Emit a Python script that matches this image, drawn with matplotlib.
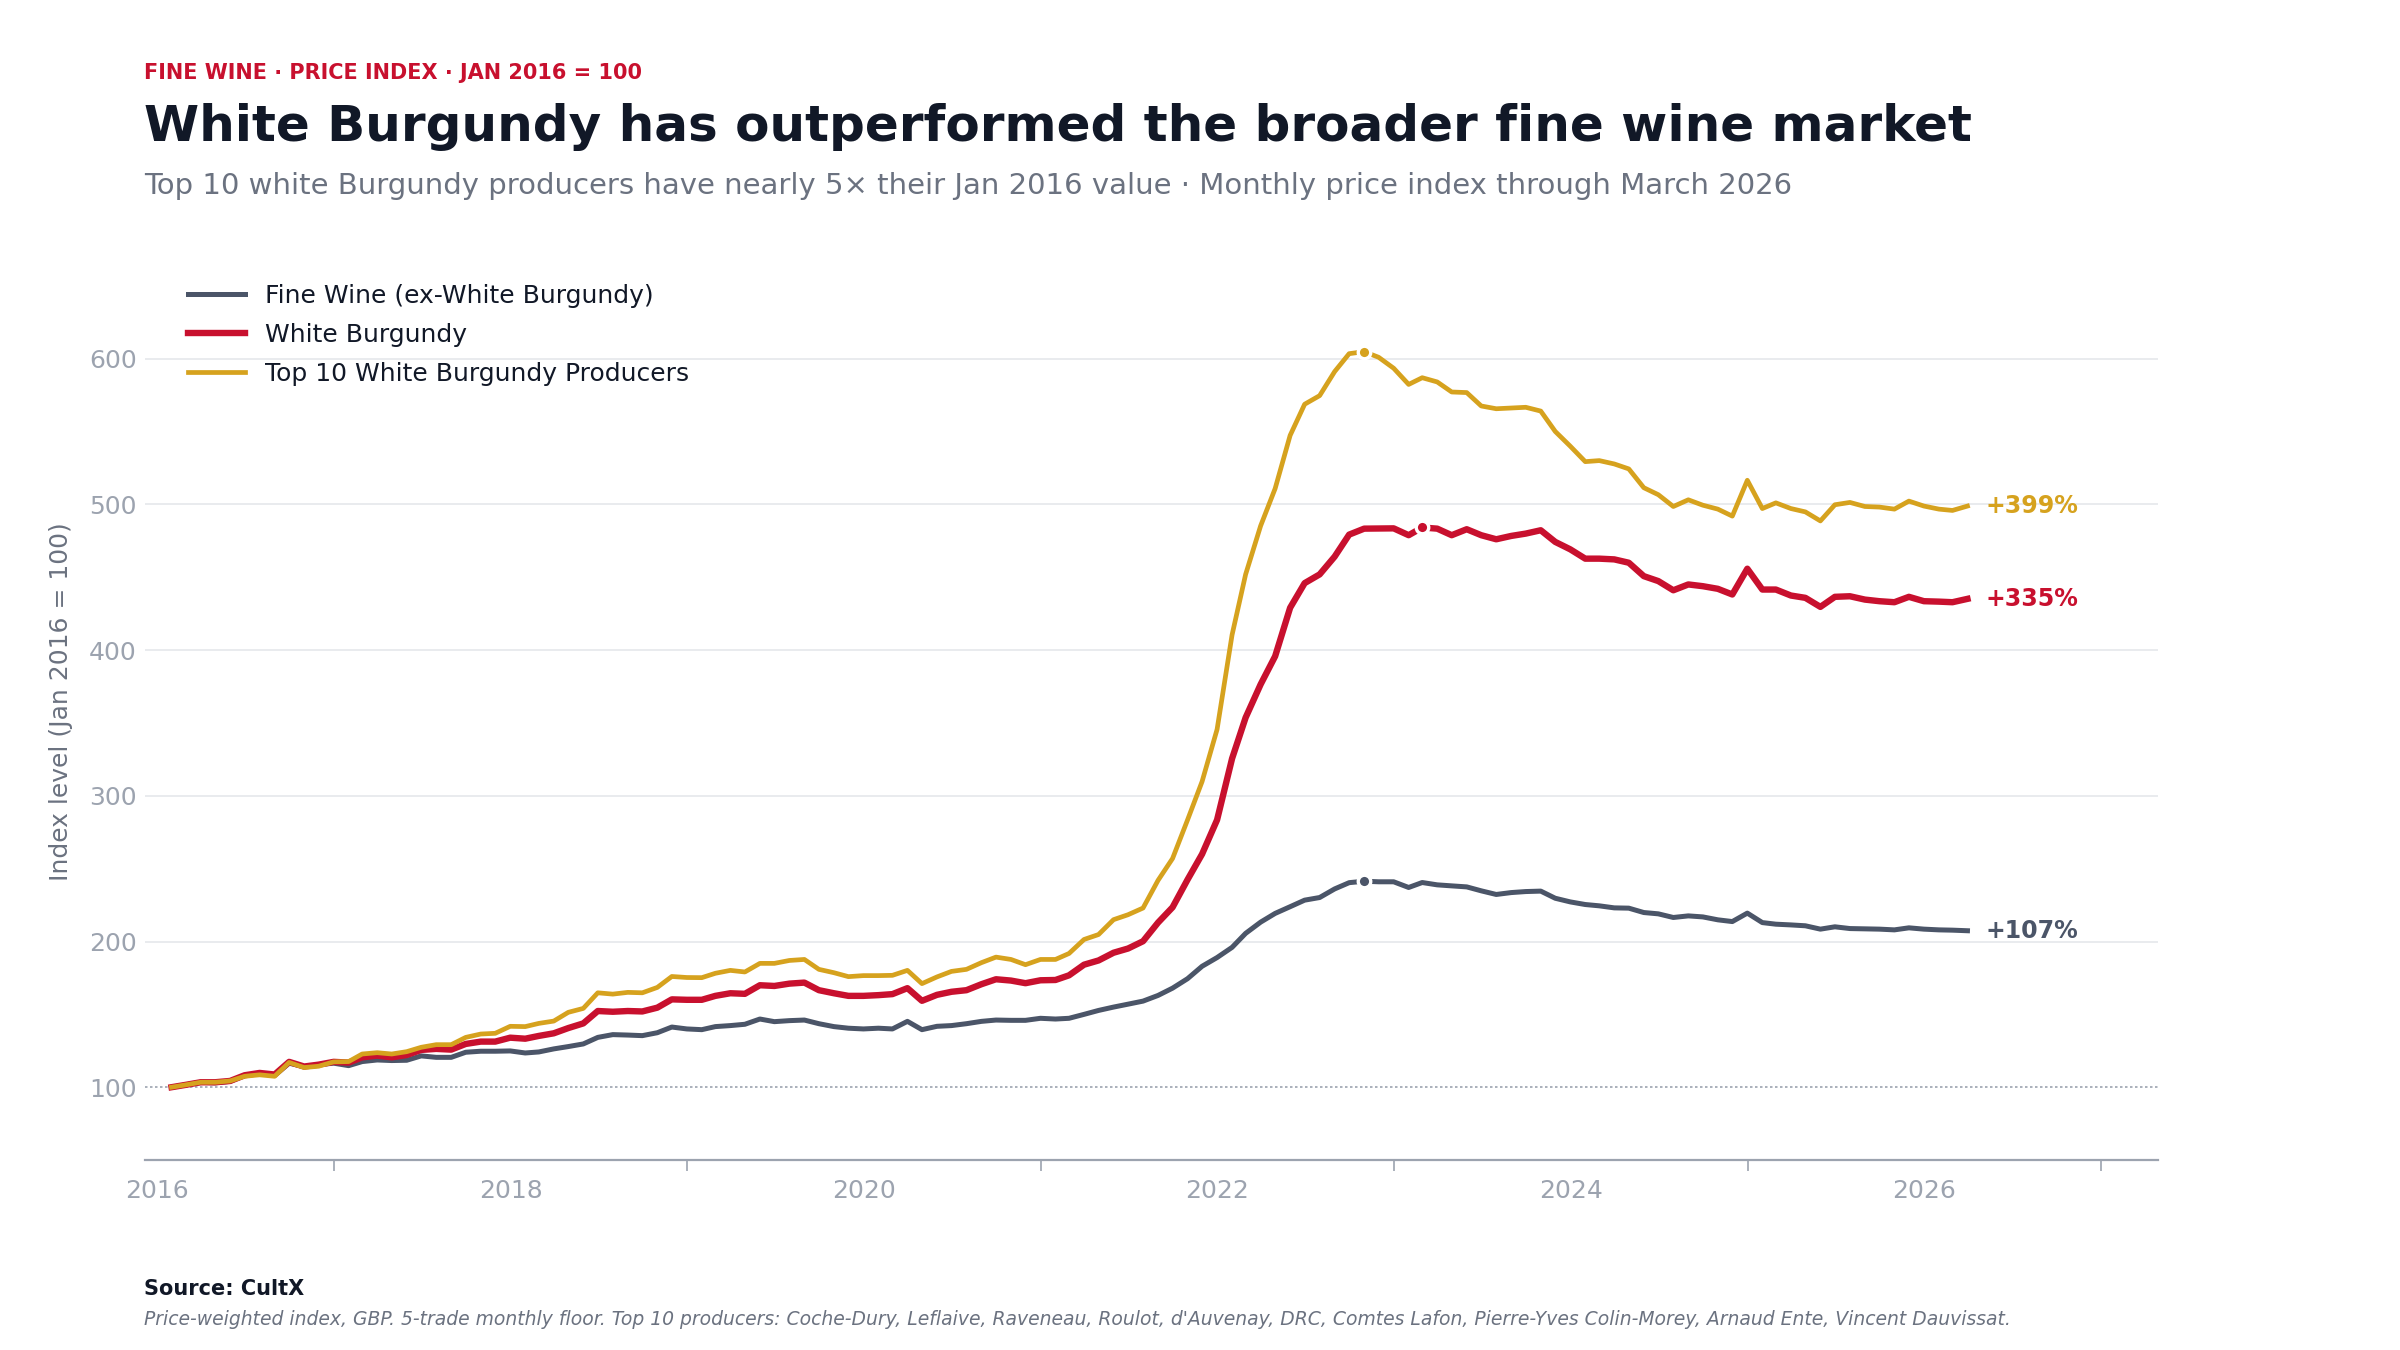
"""
White Burgundy vs fine wine market - monthly price index (Jan 2016 = 100)
"""

import numpy as np
import pandas as pd
import matplotlib

matplotlib.use("Agg")
import matplotlib.pyplot as plt
import matplotlib.dates as mdates

# Data (month-end, Jan 2016 .. Mar 2026)
START_MONTH = "2016-01-31"

fine_wine = [
    100, 101.6, 103.4, 103, 104, 108, 109.5, 108, 116.5, 114,
    115.5, 116.5, 114.8, 117.6, 118.7, 118.3, 118.5, 121.5, 120.5, 120.5,
    124, 124.7, 124.7, 124.9, 123.5, 124.2, 126.3, 127.9, 129.7, 134.2,
    136.1, 135.8, 135.4, 137.4, 141.3, 140, 139.5, 141.6, 142.3, 143.2,
    146.8, 145, 145.7, 146.1, 143.6, 141.6, 140.5, 140, 140.5, 140,
    145.2, 139.5, 141.8, 142.3, 143.6, 145.2, 146.1, 145.9, 145.9, 147.3,
    146.8, 147.3, 150, 152.7, 155, 157, 159.1, 163, 168, 174.5,
    183, 189, 196, 205.6, 213.3, 219.3, 223.9, 228.4, 230.2, 236.1,
    240.4, 241.4, 241, 241, 237.1, 240.5, 238.9, 238.2, 237.5, 234.8,
    232.3, 233.6, 234.3, 234.6, 229.7, 227.2, 225.4, 224.5, 223.1, 222.9,
    219.9, 219, 216.5, 217.6, 216.9, 214.9, 213.7, 219.5, 213, 211.9,
    211.4, 210.8, 208.5, 210.1, 208.9, 208.7, 208.5, 208, 209.4, 208.5,
    208, 207.8, 207.4,
]

white_burgundy = [
    100, 101.6, 103.4, 103.4, 104.3, 108.2, 109.8, 108.7, 117.4, 114.2,
    115.5, 117.4, 116.9, 120.5, 121.7, 120.5, 122.1, 125.6, 126.3, 125.8,
    129.7, 131.3, 131.3, 134, 133.3, 135.2, 137, 140.6, 143.8, 152.3,
    151.8, 152.3, 152, 154.6, 160.3, 160, 160, 162.7, 164.5, 164.1,
    170, 169.5, 171.1, 171.8, 166.6, 164.5, 162.7, 162.7, 163.2, 163.9,
    168, 159.3, 163.4, 165.5, 166.6, 170.7, 174.1, 173.2, 171.4, 173.4,
    173.6, 176.8, 184.1, 187, 192.3, 195.2, 200.2, 213, 223.5, 242.5,
    260, 283.5, 325.6, 353.7, 376.5, 395.8, 429.1, 446, 452, 464.2,
    479.3, 483.4, 483.5, 483.6, 478.9, 484.2, 483.4, 478.9, 483, 478.9,
    476.1, 478.4, 480, 482.3, 474.3, 469.2, 462.8, 462.8, 462.3, 460,
    450.8, 447.4, 441.1, 445.1, 443.9, 442.1, 438.2, 455.9, 441.6, 441.6,
    437.5, 435.9, 429.7, 436.6, 437, 434.7, 433.6, 432.9, 436.6, 433.6,
    433.3, 432.9, 435.2,
]

top10_producers = [
    100, 101.6, 103.4, 103.4, 104.3, 107.5, 108.5, 107.5, 117, 113.5,
    114.4, 117.4, 117.6, 122.8, 123.7, 122.8, 124.4, 127.4, 129.2, 129.2,
    134.2, 136.5, 137, 141.8, 141.6, 143.8, 145.4, 151.4, 154.1, 164.8,
    163.9, 165.1, 164.8, 168.5, 176, 175.3, 175.2, 178.2, 180.2, 179.1,
    185, 185, 187, 187.7, 180.9, 178.6, 175.9, 176.6, 176.6, 176.8,
    180.2, 171.1, 175.7, 179.5, 180.9, 185.5, 189.3, 187.7, 184.1, 187.7,
    187.7, 191.8, 201.4, 204.8, 215, 218.4, 223, 242, 257, 283.5,
    309.8, 345.6, 410.5, 452, 485.3, 510.9, 547.4, 568.8, 574.7, 591.2,
    603.5, 604.9, 601, 593.5, 582.4, 587, 584.1, 577.2, 576.8, 567.6,
    565.7, 566.2, 566.7, 564.1, 550.1, 540, 529.4, 530.1, 527.8, 524.4,
    511.5, 506.7, 498.6, 503.2, 499.5, 496.8, 492, 516.6, 497.2, 501.1,
    497.2, 494.9, 488.7, 499.8, 501.4, 498.6, 498.2, 496.8, 502.3, 498.9,
    496.8, 495.9, 498.9,
]

series_names = [
    "Fine Wine (ex-White Burgundy)",
    "White Burgundy",
    "Top 10 White Burgundy Producers",
]
y_ticks = [100, 200, 300, 400, 500, 600]

# Styling
COLORS = ["#4b5568", "#c8102e", "#d6a21e"]
WIDTHS = [1.8, 2.3, 1.7]
DARK = "#111827"
MUTED = "#6b7280"
LIGHT = "#9ca3af"

dates = pd.date_range(START_MONTH, periods=len(fine_wine), freq="ME")
all_series = [fine_wine, white_burgundy, top10_producers]

fig = plt.figure(figsize=(12, 6.75), dpi=200)
ax = fig.add_axes([0.0604, 0.1407, 0.8386, 0.6475])

for vals, name, color, lw in zip(all_series, series_names, COLORS, WIDTHS):
    vals = np.array(vals)
    ax.plot(dates, vals, color=color, lw=lw, label=name, solid_joinstyle="round", zorder=3)
    # Peak marker
    k = int(np.argmax(vals))
    ax.plot(dates[k], vals[k], "o", ms=4.5, color=color, mec="white", mew=1.2, zorder=4)
    # End label (total change)
    pct = vals[-1] - 100
    ax.annotate(
        f"+{pct:.0f}%",
        xy=(dates[-1], vals[-1]),
        xytext=(6.5, 0),
        textcoords="offset points",
        color=color,
        fontsize=8.5,
        fontweight="bold",
        va="center",
        ha="left",
    )

# Gridlines and baseline
for yv in y_ticks[1:]:
    ax.axhline(yv, color="#e5e7eb", lw=0.6, zorder=1)
ax.axhline(100, color=LIGHT, lw=0.6, ls=(0, (1.5, 1.5)), zorder=1)

ax.set_ylim(50, 650)
ax.set_xlim(pd.Timestamp("2015-12-07"), pd.Timestamp("2027-04-28"))
ax.set_yticks(y_ticks)
ax.tick_params(axis="y", length=0, labelsize=9, labelcolor=LIGHT, pad=3)

ax.xaxis.set_major_locator(mdates.YearLocator(2))
ax.xaxis.set_major_formatter(mdates.DateFormatter("%Y"))
odd_years = [pd.Timestamp(f"{y}-01-01") for y in range(2017, 2028, 2)]
ax.set_xticks(odd_years, minor=True)
ax.tick_params(axis="x", which="major", length=0, labelsize=9, labelcolor=LIGHT, pad=7)
ax.tick_params(axis="x", which="minor", length=4, color=LIGHT, width=0.6)

for side in ["top", "right", "left"]:
    ax.spines[side].set_visible(False)
ax.spines["bottom"].set_color(LIGHT)
ax.spines["bottom"].set_linewidth(0.8)

ax.set_ylabel("Index level (Jan 2016 = 100)", fontsize=9, color=MUTED)
ax.yaxis.set_label_coords(-0.036, 0.525)

ax.legend(
    loc="upper left",
    bbox_to_anchor=(0.01, 1.028),
    frameon=False,
    fontsize=9,
    handlelength=2.3,
    labelspacing=0.6,
    labelcolor=DARK,
)

# Titles
fig.text(0.06, 0.9456, "FINE WINE · PRICE INDEX · JAN 2016 = 100", color="#c8102e",
         fontsize=7.5, fontweight="bold", va="center")
fig.text(0.06, 0.906, "White Burgundy has outperformed the broader fine wine market",
         color=DARK, fontsize=18, fontweight="bold", va="center")
fig.text(0.06, 0.862,
         "Top 10 white Burgundy producers have nearly 5× their Jan 2016 value · Monthly price index through March 2026",
         color=MUTED, fontsize=10.5, va="center")

# Footer
fig.text(0.06, 0.0454, "Source: CultX", color=DARK, fontsize=7.5, fontweight="bold", va="center")
fig.text(0.06, 0.0227,
         "Price-weighted index, GBP. 5-trade monthly floor. Top 10 producers: Coche-Dury, Leflaive, Raveneau, "
         "Roulot, d'Auvenay, DRC, Comtes Lafon, Pierre-Yves Colin-Morey, Arnaud Ente, Vincent Dauvissat.",
         color=MUTED, fontsize=6.75, style="italic", va="center")

fig.savefig("out.png", dpi=200)
